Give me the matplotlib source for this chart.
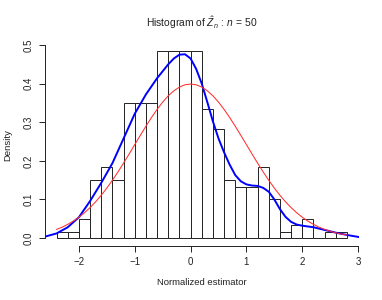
import numpy as np
import matplotlib
matplotlib.use("Agg")
import matplotlib.pyplot as plt

# --- Histogram of the normalized estimator, with density estimate and N(0,1) ---

plt.rcParams['font.family'] = ['Liberation Sans', 'DejaVu Sans']
plt.rcParams['mathtext.fontset'] = 'custom'
plt.rcParams['mathtext.rm'] = 'Liberation Sans'
plt.rcParams['mathtext.it'] = 'Liberation Sans:italic'

# histogram: bins of width 0.2 starting at -2.4
bin_edges = np.round(np.arange(-2.4, 2.81, 0.2), 1)
densities = [0.0167, 0.0167, 0.05, 0.15, 0.1833, 0.15, 0.35, 0.35, 0.35,
             0.4833, 0.4833, 0.4833, 0.4833, 0.3333, 0.2833, 0.15, 0.1333,
             0.1333, 0.1833, 0.1, 0.0167, 0.0333, 0.05, 0.0, 0.0167, 0.0167]

# kernel density estimate (blue)
kde_x = [-2.7, -2.6, -2.4, -2.2, -2.0, -1.8, -1.6, -1.4, -1.2, -1.0, -0.8,
         -0.6, -0.4, -0.3, -0.2, -0.1, 0.0, 0.1, 0.2, 0.3, 0.4, 0.5, 0.6,
         0.7, 0.8, 0.9, 1.0, 1.1, 1.2, 1.3, 1.4, 1.5, 1.6, 1.7, 1.8, 1.9,
         2.0, 2.2, 2.4, 2.6, 2.8, 3.0, 3.1]
kde_y = [0.002, 0.004, 0.012, 0.028, 0.054, 0.096, 0.143, 0.194, 0.258,
         0.322, 0.372, 0.414, 0.450, 0.465, 0.475, 0.476, 0.465, 0.438,
         0.400, 0.352, 0.302, 0.258, 0.222, 0.190, 0.163, 0.147, 0.139,
         0.136, 0.135, 0.130, 0.120, 0.100, 0.075, 0.055, 0.042, 0.035,
         0.032, 0.028, 0.021, 0.014, 0.008, 0.003, 0.001]

# standard normal density (red)
norm_x = [-2.4, -2.3, -2.2, -2.1, -2.0, -1.9, -1.8, -1.7, -1.6, -1.5, -1.4,
          -1.3, -1.2, -1.1, -1.0, -0.9, -0.8, -0.7, -0.6, -0.5, -0.4, -0.3,
          -0.2, -0.1, 0.0, 0.1, 0.2, 0.3, 0.4, 0.5, 0.6, 0.7, 0.8, 0.9, 1.0,
          1.1, 1.2, 1.3, 1.4, 1.5, 1.6, 1.7, 1.8, 1.9, 2.0, 2.1, 2.2, 2.3,
          2.4, 2.5, 2.6, 2.7, 2.8]
norm_y = [0.0224, 0.0283, 0.0355, 0.0440, 0.0540, 0.0656, 0.0790, 0.0940,
          0.1109, 0.1295, 0.1497, 0.1714, 0.1942, 0.2179, 0.2420, 0.2661,
          0.2897, 0.3123, 0.3332, 0.3521, 0.3683, 0.3814, 0.3910, 0.3970,
          0.3989, 0.3970, 0.3910, 0.3814, 0.3683, 0.3521, 0.3332, 0.3123,
          0.2897, 0.2661, 0.2420, 0.2179, 0.1942, 0.1714, 0.1497, 0.1295,
          0.1109, 0.0940, 0.0790, 0.0656, 0.0540, 0.0440, 0.0355, 0.0283,
          0.0224, 0.0175, 0.0136, 0.0104, 0.0079]

x_ticks = [-2, -1, 0, 1, 2, 3]
y_ticks = [0.0, 0.1, 0.2, 0.3, 0.4, 0.5]

fig = plt.figure(figsize=(3.82, 3.0), dpi=100)
ax = fig.add_axes([45 / 382, 1 - 245.5 / 300, 313.5 / 382, 201.5 / 300])

ax.bar(bin_edges[:-1], densities, width=np.diff(bin_edges), align='edge',
       facecolor='white', edgecolor='#222222', linewidth=0.7)
ax.plot(kde_x, kde_y, color='blue', lw=1.4)
ax.plot(norm_x, norm_y, color='#ff3030', lw=0.75)

ax.set_xlim(-2.608, 3.008)
ax.set_ylim(-0.0193, 0.5026)

for s in ['top', 'right']:
    ax.spines[s].set_visible(False)
ax.spines['left'].set_bounds(0, 0.5)
ax.spines['bottom'].set_bounds(-2, 3)
for s in ['left', 'bottom']:
    ax.spines[s].set_linewidth(0.7)
    ax.spines[s].set_color('#222222')

ax.set_xticks(x_ticks)
ax.set_xticklabels([str(t).replace('-', '\u2212') for t in x_ticks])
ax.set_yticks(y_ticks)
ax.set_yticklabels(['%.1f' % t for t in y_ticks], rotation=90, va='center')
ax.tick_params(length=4, width=0.7, labelsize=7, pad=4, colors='#222222')

ax.set_xlabel('Normalized estimator', fontsize=6.8, color='#222222')
ax.set_ylabel('Density', fontsize=6.8, color='#222222')
ax.xaxis.set_label_coords(0.5, -0.186)
ax.xaxis.label.set_va('center')
ax.yaxis.set_label_coords(-0.118, 0.5)
ax.yaxis.label.set_va('center')

ax.text(0.5, 1.082, r'Histogram of $\hat{Z}_n\,:\,n\,=\,50$',
        transform=ax.transAxes, ha='center', va='baseline', fontsize=7.4,
        color='#222222')

fig.savefig('out.png', dpi=100)
